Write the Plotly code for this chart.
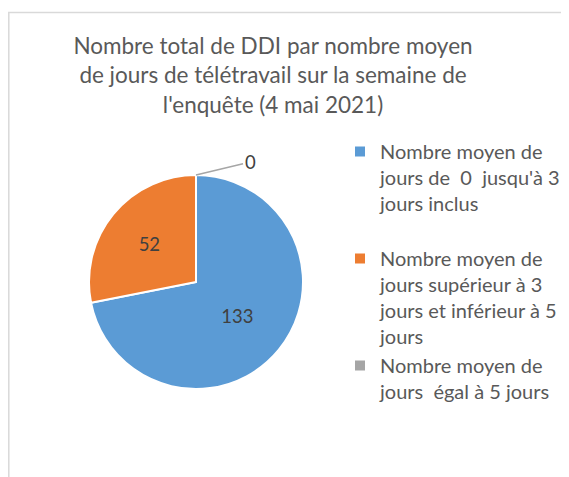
import plotly.graph_objects as go

W, H = 569, 477

labels = [
    "Nombre moyen de<br>jours de  0  jusqu'à 3<br>jours inclus<br> ",
    "Nombre moyen de<br>jours supérieur à 3<br>jours et inférieur à 5<br>jours",
    "Nombre moyen de<br>jours  égal à 5 jours",
]
values = [133, 52, 0]
colors = ["#5B9BD5", "#ED7D31", "#A5A5A5"]
title_text = ("Nombre total de DDI par nombre moyen<br>"
              "de jours de télétravail sur la semaine de<br>"
              "l'enquête (4 mai 2021)")

FONT = "Lato"
TXT = "#595959"

fig = go.Figure(go.Pie(
    labels=labels,
    values=values,
    sort=False,
    direction="clockwise",
    rotation=0,
    marker=dict(colors=colors, line=dict(color="white", width=2)),
    textinfo="value",
    textposition="inside",
    insidetextorientation="horizontal",
    textfont=dict(family=FONT, size=18.5, color="#404040"),
    domain=dict(x=[81 / W, 295 / W], y=[1 - 381 / H, 1 - 167 / H]),
    hoverinfo="label+value",
))

# label for the zero-valued slice, drawn outside with a leader line
fig.add_annotation(
    x=188 / W, y=1 - 167 / H, xref="paper", yref="paper",
    text=str(values[2]), showarrow=True, arrowhead=0, arrowwidth=1.5,
    arrowcolor="#A6A6A6", ax=54, ay=-13, standoff=0,
    font=dict(family=FONT, size=18.5, color="#404040"),
)

# chart area border
fig.add_shape(type="rect", xref="paper", yref="paper",
              x0=0.8 / W, x1=1.05, y0=-0.05, y1=1 - 4.5 / H,
              line=dict(color="#D9D9D9", width=1.5), fillcolor="rgba(0,0,0,0)")

fig.update_layout(
    width=W, height=H,
    margin=dict(l=0, r=0, t=0, b=0),
    paper_bgcolor="white",
    plot_bgcolor="white",
    font=dict(family=FONT, color=TXT),
    title=dict(text=title_text, x=265 / W, xanchor="center",
               y=1 - 46 / H, yanchor="top",
               font=dict(family=FONT, size=22.5, color=TXT)),
    showlegend=True,
    legend=dict(x=332 / W, xanchor="left", y=1 - 124 / H, yanchor="top",
                font=dict(family=FONT, size=20, color=TXT),
                valign="top", bgcolor="rgba(0,0,0,0)"),
)

fig.write_html("out.html")
